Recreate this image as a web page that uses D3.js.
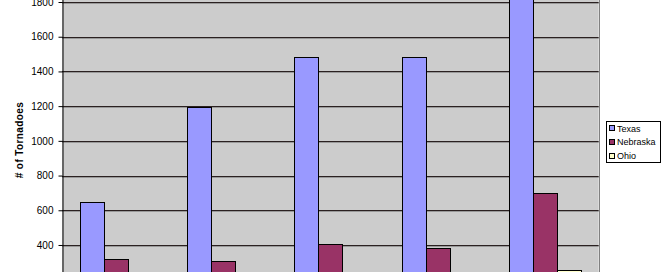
<!DOCTYPE html>
<html><head><meta charset="utf-8">
<script src="https://cdn.jsdelivr.net/npm/d3@7"></script>
<style>
html,body{margin:0;padding:0;background:#fff;overflow:hidden;}
svg{display:block;font-family:"Liberation Sans",Arial,sans-serif;}
</style></head>
<body>
<svg id="chart" width="669" height="272"></svg>
<script>
const categories = ["1950s", "1960s", "1970s", "1980s", "1990s"];
const seriesNames = ["Texas", "Nebraska", "Ohio"];
const texas = [648, 1197, 1485, 1485, 1950];
const nebraska = [322, 307, 406, 383, 700];
const ohio = [150, 120, 170, 140, 254];
const gridTicks = [0, 200, 400, 600, 800, 1000, 1200, 1400, 1600, 1800, 2000];
const yTickLabels = [400, 600, 800, 1000, 1200, 1400, 1600, 1800];
const colors = ["#9999FF", "#993366", "#FFFFCC"];

const values = [texas, nebraska, ohio];
const svg = d3.select("#chart");
const left = 62, right = 598.7;
const y = d3.scaleLinear().domain([0, 2000]).range([314.4, -32.7]);
const x0 = d3.scaleBand().domain(categories).range([left, right]).padding(0);
const x1 = d3.scaleBand().domain(seriesNames).range([17.65, x0.bandwidth() - 17.65]).padding(0);

svg.append("defs").append("clipPath").attr("id", "plotclip")
  .append("rect").attr("x", left).attr("y", y(2000)).attr("width", right - left).attr("height", y(0) - y(2000));

// plot background
svg.append("rect").attr("x", left).attr("y", y(2000)).attr("width", right - left)
  .attr("height", y(0) - y(2000)).attr("fill", "#CCCCCC");

// gridlines
const g = svg.append("g");
gridTicks.forEach(t => {
  g.append("line").attr("x1", left).attr("x2", right)
    .attr("y1", Math.round(y(t)) + 0.5).attr("y2", Math.round(y(t)) + 0.5)
    .attr("stroke", "#2a2020").attr("stroke-width", 1);
  g.append("line").attr("x1", left).attr("x2", right)
    .attr("y1", Math.round(y(t)) + 1.5).attr("y2", Math.round(y(t)) + 1.5)
    .attr("stroke", "#999999").attr("stroke-width", 1);
});

// right border
svg.append("line").attr("x1", Math.round(right) + 0.5).attr("x2", Math.round(right) + 0.5)
  .attr("y1", y(2000)).attr("y2", y(0)).attr("stroke", "#808080");

// bars
const bars = svg.append("g").attr("clip-path", "url(#plotclip)");
categories.forEach((c, i) => {
  seriesNames.forEach((s, j) => {
    const v = values[j][i];
    const bx = x0(c) + x1(s);
    bars.append("rect")
      .attr("x", Math.round(bx) + 0.5)
      .attr("y", Math.round(y(v)) + 0.5)
      .attr("width", Math.round(x1.bandwidth()))
      .attr("height", y(0) - Math.round(y(v)))
      .attr("fill", colors[j])
      .attr("stroke", "#000")
      .attr("stroke-width", 1);
  });
});

// y axis
const axis = d3.axisLeft(y).tickValues(yTickLabels).tickFormat(d3.format("d"))
  .tickSize(4).tickPadding(5).tickSizeOuter(0);
const ax = svg.append("g").attr("transform", `translate(${left + 0.5},0)`).call(axis);
ax.select(".domain").attr("stroke", "#000");
ax.selectAll(".tick line").attr("stroke", "#000");
ax.selectAll(".tick text").attr("font-size", "10px").attr("fill", "#000")
  .attr("font-family", "'Liberation Sans', Arial, sans-serif");

// y label
svg.append("text").attr("transform", "translate(23,140) rotate(-90)")
  .attr("text-anchor", "middle").attr("font-size", "10px").attr("font-weight", "bold")
  .attr("letter-spacing", "0.4px").attr("fill", "#000")
  .text("# of Tornadoes");

// legend
const lg = svg.append("g");
lg.append("rect").attr("x", 606.5).attr("y", 121.5).attr("width", 54).attr("height", 41)
  .attr("fill", "#fff").attr("stroke", "#000");
seriesNames.forEach((s, j) => {
  const cy = 128 + j * 13.8;
  lg.append("rect").attr("x", 609.5).attr("y", Math.round(cy - 3) + 0.5).attr("width", 5).attr("height", 5)
    .attr("fill", colors[j]).attr("stroke", "#000");
  lg.append("text").attr("x", 617).attr("y", cy + 3.5).attr("font-size", "9px").attr("fill", "#000").text(s);
});
</script>
</body></html>
